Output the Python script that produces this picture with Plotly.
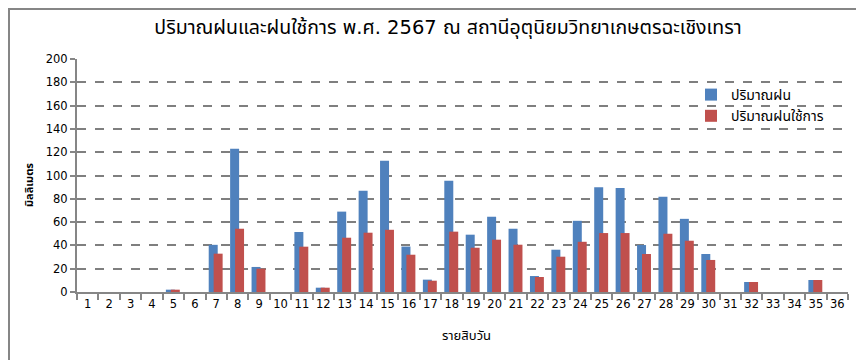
import plotly.graph_objects as go

periods = [str(i) for i in range(1, 37)]
rain = [0, 0, 0, 0, 2, 0, 40.5, 123, 21.5, 0, 51.5, 3.7, 69, 87, 112.6, 39, 10.6, 95.5,
        49.2, 64.6, 54.3, 13.7, 36.3, 61.1, 90, 89.3, 40.3, 81.8, 62.8, 32.6, 0, 8.6,
        0, 0, 10.3, 0]
eff_rain = [0, 0, 0, 0, 2, 0, 32.9, 54.3, 20, 0, 38.9, 3.7, 46.6, 50.9, 53.4, 32, 9.7, 51.8,
            38, 44.9, 40.6, 12.9, 30.3, 43.1, 50.6, 50.6, 32.6, 50, 44, 27.5, 0, 8.6,
            0, 0, 10.3, 0]
name_rain = "ปริมาณฝน"
name_eff = "ปริมาณฝนใช้การ"
title_text = "ปริมาณฝนและฝนใช้การ พ.ศ. 2567 ณ สถานีอุตุนิยมวิทยาเกษตรฉะเชิงเทรา"
x_title = "รายสิบวัน"
y_title = "มิลลิเมตร"

font_family = "DejaVu Sans, Noto Sans, Noto Sans Thai, sans-serif"

fig = go.Figure()
fig.add_trace(go.Bar(x=periods, y=rain, name=name_rain, marker_color="#4f81bd",
                     width=0.42, offset=-0.35, marker_line_width=0))
fig.add_trace(go.Bar(x=periods, y=eff_rain, name=name_eff, marker_color="#c0504d",
                     width=0.42, offset=-0.12, marker_line_width=0))

# page body has an 8px margin in the browser; compensate
OFF = 8
W, H = 864, 360
PL, PR, PT, PB = 77, 848, 59, 292  # desired plot area in screen pixels
L = PL - OFF
T = PT - OFF
R = W - (PR - OFF)
B = H - (PB - OFF)
pw, ph = PR - PL, PB - PT

def px(x):
    return (x - PL) / pw

def py(y):
    return (PB - y) / ph

fig.update_layout(
    width=W, height=H,
    margin=dict(l=L, r=R, t=T, b=B, pad=0, autoexpand=False),
    paper_bgcolor="white", plot_bgcolor="white",
    barmode="overlay",
    font=dict(family=font_family, size=11, color="black"),
    title=dict(text=title_text, x=(448 - OFF) / W, xref="container", xanchor="center",
               y=1 - (27 - OFF) / H, yref="container", yanchor="middle",
               font=dict(size=19.5, color="black")),
    legend=dict(x=px(691), y=py(79), xanchor="left", yanchor="top",
                bgcolor="rgba(0,0,0,0)", font=dict(size=14), tracegroupgap=0,
                itemwidth=30),
    showlegend=True,
    xaxis=dict(type="category", showline=True, linecolor="#868686", linewidth=2,
               ticks="outside", tickson="boundaries", ticklen=6, tickcolor="#868686",
               tickwidth=1.5, showgrid=False, tickangle=0, automargin=False,
               tickfont=dict(size=11.5)),
    yaxis=dict(range=[0, 200], dtick=20, showline=True, linecolor="#868686", linewidth=2,
               ticks="outside", ticklen=5, tickcolor="#868686", tickwidth=1.5,
               showgrid=True, gridcolor="#7f7f7f", griddash="dash", gridwidth=1.5,
               zeroline=False, automargin=False, tickfont=dict(size=11.5)),
    annotations=[
        dict(text=x_title, xref="paper", yref="paper", x=px(466), y=py(335),
             showarrow=False, font=dict(size=13), xanchor="center", yanchor="middle"),
        dict(text="<b>" + y_title + "</b>", xref="paper", yref="paper", x=px(29), y=py(185),
             showarrow=False, textangle=-90, font=dict(size=11),
             xanchor="center", yanchor="middle"),
    ],
    shapes=[
        dict(type="line", xref="paper", yref="paper", x0=px(9), x1=px(9), y0=py(9), y1=py(370),
             line=dict(color="#868686", width=2)),
        dict(type="line", xref="paper", yref="paper", x0=px(8), x1=px(870), y0=py(9), y1=py(9),
             line=dict(color="#868686", width=2)),
    ],
)

fig.write_html("out.html")
